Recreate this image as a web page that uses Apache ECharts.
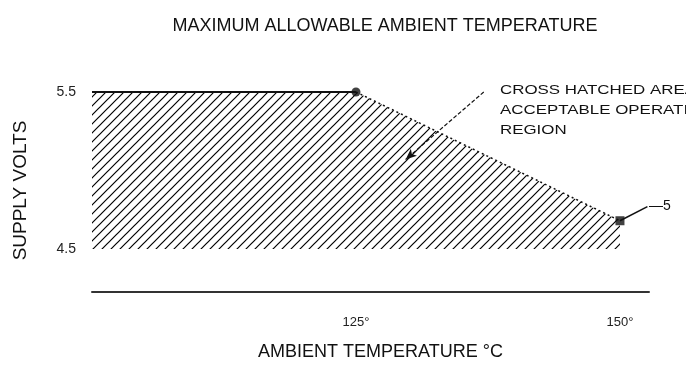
<!DOCTYPE html>
<html>
<head>
<meta charset="utf-8">
<script src="https://cdn.jsdelivr.net/npm/echarts@6/dist/echarts.min.js"></script>
<style>
  html, body { margin: 0; padding: 0; background: #fff; }
  #chart { width: 686px; height: 365px; }
</style>
</head>
<body>
<div id="chart"></div>
<script>
// Derating curve: maximum supply voltage vs. ambient temperature
const temps = [100, 125, 150];          // °C
const maxVolts = [5.5, 5.5, 4.68];      // V
const kneeTemp = 125, kneeVolts = 5.5;
const endTemp = 150, endVolts = 4.68;
const xTicks = [125, 150];
const yTicks = [4.5, 5.5];

const FONT = '"Liberation Sans", Arial, sans-serif';
const INK = '#111';

// Diagonal "/" hatch tile for the acceptable operating region
function hatchTile(step) {
  const c = document.createElement('canvas');
  c.width = step; c.height = step;
  const g = c.getContext('2d');
  g.strokeStyle = '#000';
  g.lineWidth = 1.2;
  g.beginPath();
  g.moveTo(-1, step + 1); g.lineTo(step + 1, -1);
  g.moveTo(-1, 1); g.lineTo(1, -1);
  g.moveTo(step - 1, step + 1); g.lineTo(step + 1, step - 1);
  g.stroke();
  return c;
}

const chart = echarts.init(document.getElementById('chart'), null, { renderer: 'canvas' });

const areaData = temps.map((t, i) => [t, maxVolts[i]]);

chart.setOption({
  animation: false,
  backgroundColor: '#fff',
  title: {
    text: 'MAXIMUM ALLOWABLE AMBIENT TEMPERATURE',
    left: 380, top: 12, textAlign: 'center',
    textStyle: { fontFamily: FONT, fontSize: 18, fontWeight: 'normal', color: INK }
  },
  grid: { left: 92, right: 37, top: 92, bottom: 116 },
  xAxis: {
    type: 'value', min: 100, max: 152.75, offset: 43,
    axisLine: { show: true, lineStyle: { color: '#333', width: 2 } },
    axisTick: { show: false },
    splitLine: { show: false },
    axisLabel: {
      customValues: xTicks, formatter: v => v + '°',
      margin: 24, fontFamily: FONT, fontSize: 13, color: '#222'
    },
    name: 'AMBIENT TEMPERATURE °C', nameLocation: 'middle', nameGap: 51,
    nameTextStyle: { fontFamily: FONT, fontSize: 18, color: INK, padding: [0, 0, 0, 20] }
  },
  yAxis: {
    type: 'value', min: 4.5, max: 5.5,
    axisLine: { show: false }, axisTick: { show: false }, splitLine: { show: false },
    axisLabel: {
      customValues: yTicks, formatter: v => v.toFixed(1),
      margin: 16, fontFamily: FONT, fontSize: 14, color: '#222'
    },
    name: 'SUPPLY VOLTS', nameLocation: 'middle', nameGap: 62,
    nameTextStyle: { fontFamily: FONT, fontSize: 19, color: INK, padding: [0, 40, 0, 0] }
  },
  series: [
    {
      name: 'region', type: 'line', data: areaData, symbol: 'none', silent: true,
      lineStyle: { width: 0, opacity: 0 },
      areaStyle: { origin: 'start', opacity: 1, color: { image: hatchTile(9), repeat: 'repeat' } },
      z: 1
    },
    {
      name: 'flat', type: 'line', symbol: 'none', silent: true,
      data: [[temps[0], maxVolts[0]], [kneeTemp, kneeVolts]],
      lineStyle: { color: INK, width: 2 }, z: 3
    },
    {
      name: 'slope', type: 'line', symbol: 'none', silent: true, clip: false,
      data: [[kneeTemp, kneeVolts], [endTemp, endVolts]],
      lineStyle: { color: INK, width: 1.5, type: [2, 3] }, z: 3,
      markLine: {
        silent: true, symbol: ['none', 'arrow'], symbolSize: [7, 11],
        label: { show: false },
        lineStyle: { color: INK, width: 1.2, type: [4, 2] },
        data: [
          [{ coord: [137.1, 5.5] }, { coord: [129.7, 5.07] }],
          [
            { coord: [152.6, 4.77], symbol: 'none', lineStyle: { type: 'solid', width: 1.5 } },
            { coord: [endTemp, endVolts], symbol: 'none' }
          ]
        ]
      }
    },
    {
      name: 'knee', type: 'scatter', symbol: 'circle', symbolSize: 9, silent: true,
      data: [[kneeTemp, kneeVolts]], itemStyle: { color: INK }, z: 4
    },
    {
      name: 'end', type: 'scatter', symbol: 'rect', symbolSize: 9, silent: true, clip: false,
      data: [[endTemp, endVolts]], itemStyle: { color: INK }, z: 4
    }
  ],
  graphic: [
    {
      type: 'text', x: 500, y: 80, scaleX: 1.3, silent: true,
      style: {
        text: 'CROSS HATCHED AREA\nACCEPTABLE OPERATING\nREGION',
        fontFamily: FONT, fontSize: 13, lineHeight: 20, fill: INK
      }
    },
    {
      type: 'text', x: 649, y: 199, silent: true,
      style: { text: '—5', fontFamily: FONT, fontSize: 14, fill: INK }
    }
  ]
});
</script>
</body>
</html>
